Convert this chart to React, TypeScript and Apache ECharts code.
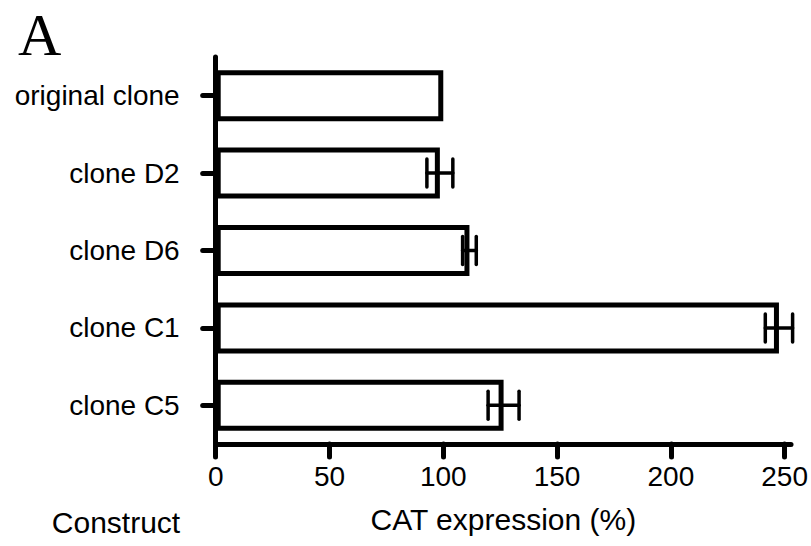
import React, { useEffect, useRef } from "react";
import * as echarts from "echarts";

const categories = ["original clone", "clone D2", "clone D6", "clone C1", "clone C5"];
const means = [100, 98.5, 111.5, 247.5, 126.5];
const errors = [0, 5.7, 3, 6, 6.8];
const xTicks = [0, 50, 100, 150, 200, 250];

const FONT = "'Liberation Sans', Arial, Helvetica, sans-serif";

export default function App() {
  const ref = useRef<HTMLDivElement>(null);
  useEffect(() => {
    if (!ref.current) return;
    const chart = echarts.init(ref.current, undefined, { renderer: "svg" });
    const errData = means
      .map((m, i) => [m - errors[i], m + errors[i], i, errors[i]])
      .filter((d) => d[3] > 0);
    chart.setOption({
      animation: false,
      backgroundColor: "#fff",
      grid: { left: 215.7, right: 18, top: 57, bottom: 102, containLabel: false },
      xAxis: {
        type: "value",
        min: 0,
        max: 252.8,
        name: "CAT expression (%)",
        nameLocation: "middle",
        nameGap: 60,
        nameTextStyle: { fontSize: 30, color: "#000", fontFamily: FONT },
        axisLine: { show: true, lineStyle: { color: "#000", width: 5 } },
        axisTick: {
          show: true,
          length: 13,
          customValues: xTicks,
          lineStyle: { color: "#000", width: 5, cap: "round" },
        },
        axisLabel: {
          customValues: xTicks,
          fontSize: 28,
          color: "#000",
          fontFamily: FONT,
          margin: 18,
        },
        splitLine: { show: false },
      },
      yAxis: {
        type: "category",
        data: categories,
        inverse: true,
        axisLine: { show: true, lineStyle: { color: "#000", width: 5 } },
        axisTick: {
          show: true,
          alignWithLabel: true,
          length: 13,
          lineStyle: { color: "#000", width: 5, cap: "round" },
        },
        axisLabel: { fontSize: 28, color: "#000", fontFamily: FONT, margin: 36 },
        splitLine: { show: false },
      },
      series: [
        {
          type: "bar",
          data: means,
          barWidth: 51,
          itemStyle: { color: "#fff", borderColor: "#000", borderWidth: 5 },
          z: 2,
        },
        {
          type: "custom",
          data: errData,
          encode: { x: [0, 1], y: 2 },
          z: 5,
          renderItem: (params: any, api: any) => {
            const lo = api.coord([api.value(0), api.value(2)]);
            const hi = api.coord([api.value(1), api.value(2)]);
            const h = 14;
            const style = { stroke: "#000", lineWidth: 3.5, lineCap: "round" };
            return {
              type: "group",
              children: [
                { type: "line", shape: { x1: lo[0], y1: lo[1], x2: hi[0], y2: hi[1] }, style },
                { type: "line", shape: { x1: lo[0], y1: lo[1] - h, x2: lo[0], y2: lo[1] + h }, style },
                { type: "line", shape: { x1: hi[0], y1: hi[1] - h, x2: hi[0], y2: hi[1] + h }, style },
              ],
            };
          },
        },
      ],
      graphic: [
        {
          type: "text",
          left: 18,
          top: 5,
          style: {
            text: "A",
            fontSize: 60,
            fontFamily: "'Liberation Serif', 'Times New Roman', serif",
            fill: "#000",
          },
        },
        {
          type: "text",
          x: 116,
          y: 522,
          style: {
            text: "Construct",
            fontSize: 30,
            fontFamily: FONT,
            fill: "#000",
            textAlign: "center",
            textVerticalAlign: "middle",
          },
        },
      ],
    });
    return () => chart.dispose();
  }, []);
  return (
    <div
      ref={ref}
      style={{ position: "fixed", left: 0, top: 0, width: 811, height: 546, background: "#fff" }}
    />
  );
}
